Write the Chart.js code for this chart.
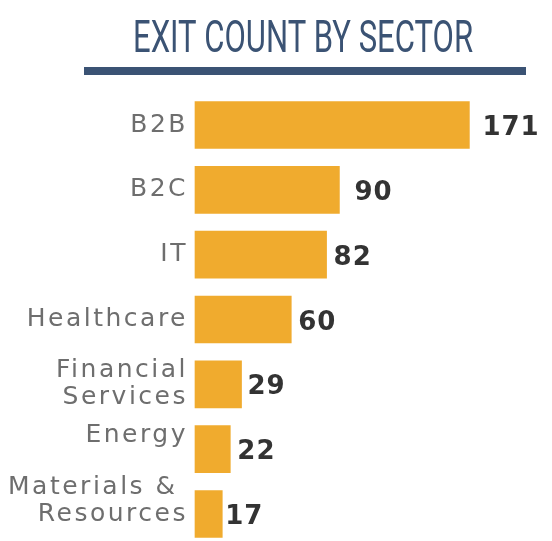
<!DOCTYPE html>
<html>
<head>
<meta charset="utf-8">
<script src="https://cdn.jsdelivr.net/npm/chart.js@4.4.0/dist/chart.umd.min.js"></script>
<style>
  html, body { margin: 0; padding: 0; background: #fff; overflow: hidden; }
  #wrap { width: 552px; height: 541px; }
</style>
</head>
<body>
<div id="wrap"><canvas id="chart" width="552" height="541"></canvas></div>
<script>
  // ── Data ───────────────────────────────────────────────────────────────────
  const TITLE   = 'EXIT COUNT BY SECTOR';
  const SECTORS = ['B2B', 'B2C', 'IT', 'Healthcare', ['Financial', 'Services'], 'Energy', ['Materials & ', 'Resources']];
  const EXITS   = [171, 90, 82, 60, 29, 22, 17];
  const X_MAX   = 220;

  // ── Look ───────────────────────────────────────────────────────────────────
  const NAVY = '#3b5374';
  const GOLD = '#f0ab2e';
  const GREY = '#6e6e6e';
  const INK  = '#333333';
  // gap between bar end and its number; the original isn't consistent about it
  const LABEL_GAP = [13, 15, 7, 7, 6, 7, 3];
  // the last two category labels sit a bit above their bars in the original
  const LIFTED = [5, 6];

  const header = {
    id: 'header',
    beforeDraw(chart) {
      chart.ctx.letterSpacing = '2.5px'; // category labels are spaced out
    },
    afterDraw(chart) {
      const ctx = chart.ctx;
      ctx.save();
      ctx.letterSpacing = '0px';
      ctx.fillStyle = NAVY;
      ctx.font = '400 44px Roboto, sans-serif';
      ctx.textBaseline = 'alphabetic';
      ctx.textAlign = 'left';
      const w = ctx.measureText(TITLE).width;
      const target = 340;
      ctx.translate(133, 52);
      ctx.scale(target / w, 1);
      ctx.fillText(TITLE, 0, 0);
      ctx.restore();

      ctx.save();
      ctx.fillStyle = NAVY;
      ctx.fillRect(84, 67, 442, 8);
      ctx.restore();
    },
  };

  const values = {
    id: 'values',
    afterDatasetsDraw(chart) {
      const ctx = chart.ctx;
      const meta = chart.getDatasetMeta(0);
      ctx.save();
      ctx.letterSpacing = '1px';
      ctx.fillStyle = INK;
      ctx.font = '700 26px "DejaVu Sans", sans-serif';
      ctx.textAlign = 'left';
      ctx.textBaseline = 'alphabetic';
      meta.data.forEach((bar, i) => {
        ctx.fillText(String(EXITS[i]), bar.x + LABEL_GAP[i], bar.y + 10);
      });
      ctx.restore();
    },
  };

  new Chart(document.getElementById('chart'), {
    type: 'bar',
    data: {
      labels: SECTORS,
      datasets: [{
        data: EXITS,
        backgroundColor: GOLD,
        borderWidth: 0,
        barThickness: 47,
        clip: false,
      }],
    },
    options: {
      indexAxis: 'y',
      responsive: false,
      animation: false,
      events: [],
      layout: { padding: { top: 125, right: 4, bottom: 27, left: 0 } },
      plugins: { legend: { display: false }, tooltip: { enabled: false }, title: { display: false } },
      scales: {
        x: { display: false, min: 0, max: X_MAX },
        y: {
          offset: false,
          grid: { display: false, drawTicks: false },
          border: { display: false },
          ticks: {
            autoSkip: false,
            padding: 7,
            color: GREY,
            font: { family: '"DejaVu Sans", sans-serif', size: 25, lineHeight: 27 / 25 },
            callback(value, i) {
              const lines = [].concat(SECTORS[i]);
              return LIFTED.includes(i) ? lines.concat('') : lines;
            },
          },
          afterFit(scale) { scale.width = 195; },
        },
      },
    },
    plugins: [header, values],
  });
</script>
</body>
</html>
